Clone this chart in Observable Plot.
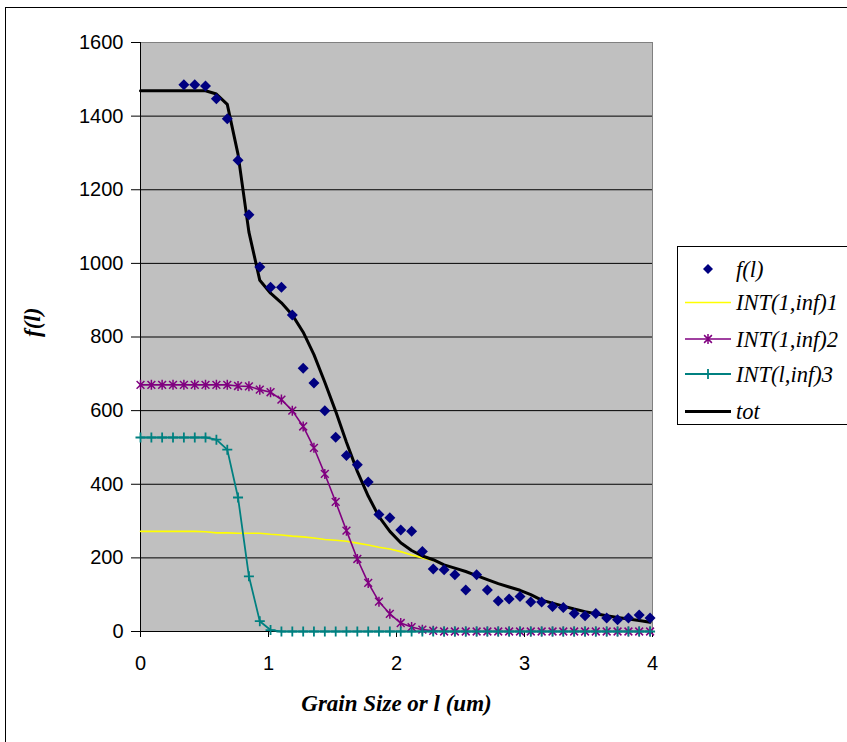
<!DOCTYPE html>
<html><head><meta charset="utf-8">
<script src="https://cdn.jsdelivr.net/npm/d3@7"></script>
<script src="https://cdn.jsdelivr.net/npm/@observablehq/plot@0.6"></script>
<style>
html,body{margin:0;padding:0;background:#fff;overflow:hidden;width:847px;height:742px}
#wrap{position:relative;width:847px;height:742px;overflow:hidden}
#border{position:absolute;left:5px;top:7px;width:900px;height:800px;border:1px solid #000;box-sizing:border-box}
#chart{position:absolute;left:0;top:0}
#legend{position:absolute;left:677px;top:246px;width:200px;height:179px;border:1px solid #000;background:#fff;box-sizing:border-box}
</style></head><body><div id="wrap"><div id="border"></div><div id="chart"></div><div id="legend"></div></div>
<script>
// grain size l (um)
const xs = [0,0.085,0.169,0.254,0.339,0.424,0.508,0.593,0.678,0.762,0.847,0.932,1.016,1.101,1.186,1.271,1.355,1.440,1.525,1.609,1.694,1.779,1.863,1.948,2.033,2.118,2.202,2.287,2.372,2.456,2.541,2.626,2.710,2.795,2.880,2.965,3.049,3.134,3.219,3.303,3.388,3.473,3.557,3.642,3.727,3.812,3.896,3.981];
const fl = [null,null,null,null,1485,1485,1482,1447,1393,1280,1132,990,935,935,860,715,675,600,528,478,453,406,318,309,276,272,217,170,168,154,113,154,113,83,88,95,80,80,68,65,49,43,49,37,32,37,45,37];
const int1 = [272,272,272,272,272,272,271,268,268,267,267,267,264,262,259,257,254,250,248,245,240,235,229,224,217,208,200,193,181,172,163,152,141,130,121,112,100,85,77,69,61,54,48,43,38,34,30,25];
const int2 = [670,670,670,670,670,670,670,670,670,667,666,657,650,630,600,557,499,428,352,274,197,132,81,48,23,12,5,2,0,0,0,0,0,0,0,0,0,0,0,0,0,0,0,0,0,0,0,0];
const int3 = [527,527,527,527,527,527,527,521,494,364,150,28,4,0,0,0,0,0,0,0,0,0,0,0,0,0,0,0,0,0,0,0,0,0,0,0,0,0,0,0,0,0,0,0,0,0,0,0];
const tot = [1469,1469,1469,1469,1469,1469,1469,1460,1432,1296,1085,954,919,893,860,813,752,677,598,514,435,368,312,272,241,220,205,195,181,172,163,152,141,130,121,112,100,85,77,69,61,54,48,43,38,34,30,25];
const seriesNames = ["f(l)","INT(1,inf)1","INT(1,inf)2","INT(l,inf)3","tot"];
const yTicks = [0,200,400,600,800,1000,1200,1400,1600];
const xTicks = [0,1,2,3,4];
const xTitle = "Grain Size or l (um)";
const yTitle = "f(l)";

const rows = a => xs.map((x,i)=>({x, v:a[i]})).filter(d=>d.v!=null);

const symStar = {draw(ctx,size){const r=Math.sqrt(size/Math.PI);const d=r*0.78;ctx.moveTo(0,-r);ctx.lineTo(0,r);ctx.moveTo(-d,-d);ctx.lineTo(d,d);ctx.moveTo(-d,d);ctx.lineTo(d,-d);}};
const symPlus = {draw(ctx,size){const r=Math.sqrt(size/Math.PI);ctx.moveTo(-r,0);ctx.lineTo(r,0);ctx.moveTo(0,-r);ctx.lineTo(0,r);}};
const symDiamond = {draw(ctx,size){const r=Math.sqrt(size/Math.PI);ctx.moveTo(0,-r);ctx.lineTo(r,0);ctx.lineTo(0,r);ctx.lineTo(-r,0);ctx.closePath();}};

const C = {fl:"#000080", i1:"#ffff00", i2:"#800080", i3:"#008080", tot:"#000000"};
const SANS = "'Liberation Sans', Arial, sans-serif";
const SERIF = "'Liberation Serif', 'Times New Roman', serif";

const chart = Plot.plot({
  width: 847, height: 742,
  marginLeft: 140, marginRight: 195, marginTop: 42, marginBottom: 111,
  style: {fontFamily: SANS, fontSize: "20px", background: "transparent", color: "#000"},
  x: {domain: [0,4]},
  y: {domain: [0,1600]},
  marks: [
    Plot.frame({fill:"#c0c0c0", stroke:"#808080"}),
    Plot.ruleY(yTicks.filter(t=>t>0 && t<1600), {stroke:"#000", strokeWidth:1}),
    Plot.ruleX([0], {stroke:"#000"}),
    Plot.ruleY([0], {stroke:"#000"}),
    Plot.axisY({ticks: yTicks, tickSize: 9, tickPadding: 8, label: null, tickFormat: d=>String(d)}),
    Plot.axisX({ticks: xTicks, tickSize: 6, tickPadding: 18, label: null, tickFormat: d=>String(d)}),
    Plot.line(rows(int1), {x:"x", y:"v", stroke:C.i1, strokeWidth:1.6}),
    Plot.line(rows(int2), {x:"x", y:"v", stroke:C.i2, strokeWidth:1.6}),
    Plot.line(rows(int3), {x:"x", y:"v", stroke:C.i3, strokeWidth:1.8}),
    Plot.line(rows(tot), {x:"x", y:"v", stroke:C.tot, strokeWidth:3}),
    Plot.dot(rows(fl), {x:"x", y:"v", symbol:symDiamond, r:5.5, fill:C.fl, stroke:"none"}),
    Plot.dot(rows(int2), {x:"x", y:"v", symbol:symStar, r:5, stroke:C.i2, strokeWidth:1.5, fill:"none"}),
    Plot.dot(rows(int3), {x:"x", y:"v", symbol:symPlus, r:5, stroke:C.i3, strokeWidth:1.8, fill:"none"}),
    Plot.text([yTitle], {frameAnchor:"left", dx:-108, rotate:-90, fontFamily:SERIF, fontStyle:"italic", fontWeight:"bold", fontSize:23, fill:"#000"}),
    Plot.text([xTitle], {frameAnchor:"bottom", dy:79, fontFamily:SERIF, fontStyle:"italic", fontWeight:"bold", fontSize:23, fill:"#000"})
  ]
});
document.getElementById("chart").appendChild(chart);

// legend
const leg = d3.select("#legend").append("svg").attr("width",200).attr("height",179);
const rowsY = [22, 55.5, 92, 127, 164.5];
const styles = [
  {line:null, sym:symDiamond, fill:C.fl, stroke:"none", sw:0},
  {line:C.i1, lw:1.6},
  {line:C.i2, lw:1.6, sym:symStar, fill:"none", stroke:C.i2, sw:1.5},
  {line:C.i3, lw:1.8, sym:symPlus, fill:"none", stroke:C.i3, sw:1.8},
  {line:C.tot, lw:3}
];
seriesNames.forEach((name,i)=>{
  const y = rowsY[i], s = styles[i];
  if (s.line) leg.append("line").attr("x1",7).attr("x2",53).attr("y1",y).attr("y2",y).attr("stroke",s.line).attr("stroke-width",s.lw);
  if (s.sym) leg.append("path").attr("transform",`translate(30,${y})`).attr("d",d3.symbol(s.sym, Math.PI*25)()).attr("fill",s.fill).attr("stroke",s.stroke).attr("stroke-width",s.sw);
  leg.append("text").attr("x",58).attr("y",y).attr("dy","0.35em").attr("font-family",SERIF).attr("font-style","italic").attr("font-size",22.5).text(name);
});
</script></body></html>
